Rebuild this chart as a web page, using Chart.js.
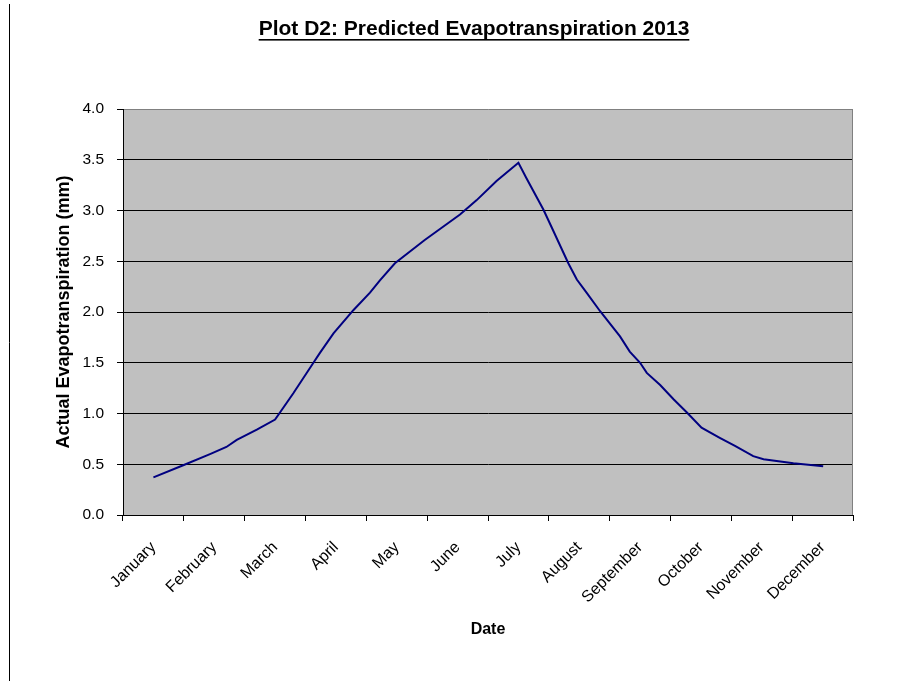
<!DOCTYPE html>
<html>
<head>
<meta charset="utf-8">
<script src="https://cdn.jsdelivr.net/npm/chart.js@4/dist/chart.umd.min.js"></script>
<style>
  html, body { margin: 0; padding: 0; background: #ffffff; }
  #wrap { position: relative; width: 904px; height: 681px; }
</style>
</head>
<body>
<div id="wrap"><canvas id="c" width="904" height="681"></canvas></div>
<script>
// Month names shown on the date axis
const months = ['January', 'February', 'March', 'April', 'May', 'June',
                'July', 'August', 'September', 'October', 'November', 'December'];

// Position along the year, in months from 1 January (0.5 = middle of January)
const monthPos = [0.50, 0.99, 1.43, 1.70, 1.87, 2.20, 2.50, 2.80, 3.13, 3.24,
                  3.46, 3.79, 4.06, 4.22, 4.47, 4.96, 5.54, 5.81, 6.14, 6.50,
                  6.63, 6.91, 7.05, 7.32, 7.46, 7.62, 7.84, 8.17, 8.33, 8.50,
                  8.61, 8.83, 9.05, 9.27, 9.51, 9.81, 10.06, 10.36, 10.53, 11.02, 11.51];

// Predicted actual evapotranspiration (mm)
const etValues = [0.37, 0.49, 0.60, 0.67, 0.74, 0.84, 0.94, 1.20, 1.50, 1.60,
                  1.79, 2.02, 2.19, 2.31, 2.48, 2.71, 2.96, 3.10, 3.29, 3.47,
                  3.32, 3.01, 2.83, 2.48, 2.32, 2.19, 2.01, 1.76, 1.61, 1.50,
                  1.40, 1.28, 1.14, 1.01, 0.86, 0.76, 0.68, 0.58, 0.55, 0.51, 0.48];

const titleText = 'Plot D2: Predicted Evapotranspiration 2013';
const FONT = "'Liberation Sans', Arial, sans-serif";

const points = monthPos.map((m, i) => ({ x: m, y: etValues[i] }));

// Grey plot area, grey frame on top/right, page rule and underlined title
const decor = {
  id: 'decor',
  beforeDraw(chart) {
    const { ctx, chartArea: a } = chart;
    ctx.save();
    ctx.fillStyle = '#ffffff';
    ctx.fillRect(0, 0, chart.width, chart.height);
    ctx.fillStyle = '#c0c0c0';
    ctx.fillRect(a.left, a.top, a.right - a.left, a.bottom - a.top);
    ctx.restore();
  },
  afterDraw(chart) {
    const { ctx, chartArea: a } = chart;
    ctx.save();
    // right frame edge
    ctx.strokeStyle = '#808080';
    ctx.lineWidth = 1;
    ctx.beginPath();
    ctx.moveTo(Math.round(a.right) - 0.5, a.top);
    ctx.lineTo(Math.round(a.right) - 0.5, a.bottom);
    ctx.stroke();
    // page rule on the left
    ctx.strokeStyle = '#000000';
    ctx.beginPath();
    ctx.moveTo(9.5, 4);
    ctx.lineTo(9.5, chart.height);
    ctx.stroke();
    // title
    ctx.font = 'bold 21px ' + FONT;
    ctx.fillStyle = '#000000';
    ctx.textAlign = 'center';
    ctx.textBaseline = 'alphabetic';
    const cx = 474, base = 35;
    ctx.fillText(titleText, cx, base);
    const w = ctx.measureText(titleText).width;
    ctx.fillRect(cx - w / 2, base + 4, w, 1.6);
    ctx.restore();
  }
};

new Chart(document.getElementById('c'), {
  type: 'line',
  data: {
    labels: months,
    datasets: [{
      label: 'Actual Evapotranspiration (mm)',
      data: points,
      xAxisID: 'xd',
      borderColor: '#000080',
      borderWidth: 2,
      pointRadius: 0,
      tension: 0,
      fill: false
    }]
  },
  options: {
    responsive: false,
    animation: false,
    events: [],
    layout: { padding: { top: 109, right: 51, bottom: 0, left: 0 } },
    plugins: {
      legend: { display: false },
      tooltip: { enabled: false },
      title: { display: false }
    },
    scales: {
      x: {
        type: 'category',
        position: 'bottom',
        offset: true,
        afterFit(scale) { scale.height = 166; },
        grid: {
          offset: true,
          drawOnChartArea: false,
          drawTicks: true,
          tickLength: 6,
          color: '#000000',
          tickColor: '#000000'
        },
        border: { display: true, color: '#000000', width: 1 },
        ticks: {
          autoSkip: false,
          minRotation: 45,
          maxRotation: 45,
          padding: 17,
          color: '#000000',
          font: { family: FONT, size: 16 }
        },
        title: {
          display: true,
          text: 'Date',
          color: '#000000',
          font: { family: FONT, size: 16, weight: 'bold' },
          padding: { top: 0, bottom: 42 }
        }
      },
      xd: {
        type: 'linear',
        position: 'bottom',
        display: false,
        min: 0,
        max: 12
      },
      y: {
        type: 'linear',
        min: 0,
        max: 4,
        afterFit(scale) { scale.width = 123; },
        grid: {
          color: (c) => (c.tick && c.tick.value === 4 ? '#808080' : '#000000'),
          tickColor: '#000000',
          tickLength: 6,
          lineWidth: 1
        },
        border: { display: true, color: '#000000', width: 1 },
        ticks: {
          stepSize: 0.5,
          padding: 13,
          color: '#000000',
          font: { family: FONT, size: 15.5 },
          callback: (v) => Number(v).toFixed(1)
        },
        title: {
          display: true,
          text: 'Actual Evapotranspiration (mm)',
          color: '#000000',
          font: { family: FONT, size: 18, weight: 'bold' },
          padding: { top: 53, bottom: 0 }
        }
      }
    }
  },
  plugins: [decor]
});
</script>
</body>
</html>
